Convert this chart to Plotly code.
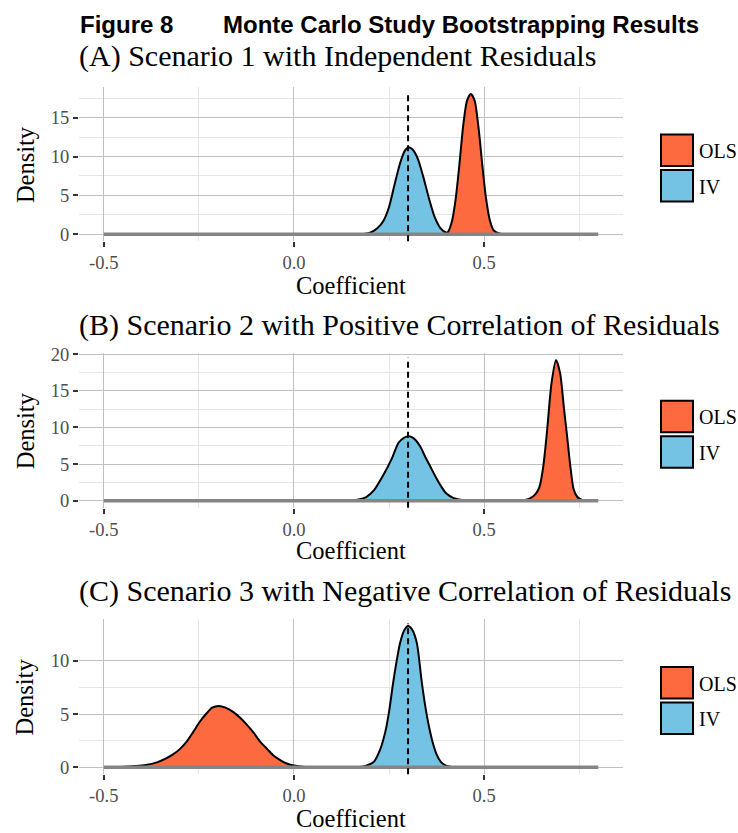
import plotly.graph_objects as go

W, H = 738, 833

# ---------------- data ----------------
coef_ticks = [-0.5, 0.0, 0.5]
coef_tick_text = ["-0.5", "0.0", "0.5"]
coef_minor = [-0.25, 0.25, 0.75]
true_value = 0.3
support = [-0.5, 0.8]
estimators = ["OLS", "IV"]

# (A) Scenario 1 with independent residuals
iv_a_x = [0.18, 0.20, 0.22, 0.235, 0.25, 0.265, 0.28, 0.292, 0.302, 0.312, 0.325, 0.34, 0.355, 0.37, 0.385, 0.40, 0.42]
iv_a_y = [0.0, 0.2, 0.8, 1.7, 3.5, 6.5, 9.3, 10.8, 11.2, 10.9, 9.8, 7.4, 4.6, 2.2, 0.8, 0.2, 0.0]
ols_a_x = [0.39, 0.405, 0.415, 0.425, 0.435, 0.445, 0.455, 0.465, 0.475, 0.485, 0.495, 0.505, 0.515, 0.525, 0.54, 0.56]
ols_a_y = [0.0, 0.3, 1.6, 4.5, 9.0, 14.0, 17.2, 18.05, 17.2, 13.8, 9.0, 4.6, 1.8, 0.5, 0.1, 0.0]

# (B) Scenario 2 with positive correlation of residuals
iv_b_x = [0.15, 0.17, 0.19, 0.21, 0.235, 0.257, 0.275, 0.29, 0.303, 0.315, 0.332, 0.345, 0.358, 0.372, 0.384, 0.40, 0.42, 0.445, 0.46]
iv_b_y = [0.0, 0.15, 0.5, 1.4, 3.5, 5.7, 7.9, 8.6, 8.8, 8.5, 7.4, 6.0, 4.7, 3.3, 2.2, 1.0, 0.35, 0.05, 0.0]
ols_b_x = [0.60, 0.62, 0.635, 0.645, 0.655, 0.665, 0.677, 0.689, 0.70, 0.71, 0.717, 0.727, 0.735, 0.745, 0.76]
ols_b_y = [0.0, 0.3, 0.9, 1.8, 4.5, 9.3, 16.0, 19.2, 17.3, 12.5, 9.3, 4.5, 1.6, 0.5, 0.0]

# (C) Scenario 3 with negative correlation of residuals
iv_c_x = [0.17, 0.19, 0.21, 0.226, 0.24, 0.25, 0.261, 0.27, 0.279, 0.29, 0.30, 0.31, 0.323, 0.336, 0.345, 0.354, 0.365, 0.375, 0.385, 0.397, 0.42]
iv_c_y = [0.0, 0.15, 0.5, 1.6, 3.3, 5.2, 8.0, 10.0, 11.7, 12.9, 13.3, 13.0, 11.7, 8.0, 5.8, 4.0, 2.3, 1.2, 0.55, 0.2, 0.0]
ols_c_x = [-0.46, -0.42, -0.39, -0.36, -0.34, -0.318, -0.30, -0.282, -0.265, -0.247, -0.23, -0.215, -0.197, -0.18, -0.16, -0.14, -0.124, -0.105, -0.089, -0.07, -0.054, -0.035, -0.019, 0.0, 0.03, 0.06]
ols_c_y = [0.0, 0.1, 0.2, 0.45, 0.75, 1.2, 1.7, 2.4, 3.3, 4.3, 5.05, 5.6, 5.76, 5.6, 5.2, 4.6, 4.0, 3.2, 2.4, 1.7, 1.1, 0.65, 0.35, 0.15, 0.02, 0.0]

panel_titles = [
    "(A) Scenario 1 with Independent Residuals",
    "(B) Scenario 2 with Positive Correlation of Residuals",
    "(C) Scenario 3 with Negative Correlation of Residuals",
]
y_ticks = [[0, 5, 10, 15], [0, 5, 10, 15, 20], [0, 5, 10]]
y_minor = [[2.5, 7.5, 12.5, 17.5], [2.5, 7.5, 12.5, 17.5], [2.5, 7.5]]

# ---------------- style ----------------
OLS_FILL = "#FD6A40"
IV_FILL = "#74C3E5"
SERIF = "Liberation Serif, Times New Roman, serif"
SANS = "Liberation Sans, Arial, sans-serif"
MAJOR_GRID = "#C0C0C0"
MINOR_GRID = "#E6E6E6"
TICK_GREY = "#4D4D4D"

# panel geometry in pixels (top, bottom)
panel_px = [(80, 236.4), (349.5, 506.4), (619, 776.5)]
panel_left, panel_right = 79, 623
title_cy = [49, 321, 591]
xtitle_cy = [281, 550, 821]


def py(v):
    return 1 - v / H


def px(v):
    return v / W


series = [
    ((ols_a_x, ols_a_y), (iv_a_x, iv_a_y)),
    ((ols_b_x, ols_b_y), (iv_b_x, iv_b_y)),
    ((ols_c_x, ols_c_y), (iv_c_x, iv_c_y)),
]

fig = go.Figure()
annotations = []
shapes = []
layout = {}

x_pad = 0.05 * (support[1] - support[0])
x_range = [support[0] - x_pad, support[1] + x_pad]

for i, ((ox, oy), (ix, iy)) in enumerate(series):
    n = "" if i == 0 else str(i + 1)
    xa, ya = "x" + n, "y" + n
    top, bot = panel_px[i]

    ymax = max(max(oy), max(iy))
    y_range = [-0.05 * ymax, ymax * 1.05]

    for xs, ys, fillc, name in ((ix, iy, IV_FILL, "IV"), (ox, oy, OLS_FILL, "OLS")):
        fig.add_trace(go.Scatter(
            x=xs, y=ys, mode="lines", name=name, fill="tozeroy", fillcolor=fillc,
            line=dict(color="black", width=2, shape="spline", smoothing=0.7),
            xaxis=xa, yaxis=ya, showlegend=False, hoverinfo="skip"))

    # baseline along the density support
    fig.add_trace(go.Scatter(
        x=support, y=[0, 0], mode="lines", line=dict(color="#858585", width=3.5),
        xaxis=xa, yaxis=ya, showlegend=False, hoverinfo="skip"))

    layout["xaxis" + n] = dict(
        domain=[px(panel_left), px(panel_right)], anchor=ya, range=x_range,
        tickvals=coef_ticks, ticktext=coef_tick_text,
        ticks="outside", ticklen=5, tickwidth=2, tickcolor="#333333",
        tickfont=dict(family=SERIF, size=18.5, color=TICK_GREY),
        showgrid=True, gridcolor=MAJOR_GRID, gridwidth=1,
        minor=dict(tickvals=coef_minor, showgrid=True, gridcolor=MINOR_GRID, gridwidth=1),
        zeroline=False, showline=False, fixedrange=True)
    layout["yaxis" + n] = dict(
        domain=[py(bot), py(top)], anchor=xa, range=y_range,
        tickvals=y_ticks[i], ticks="outside", ticklen=5, tickwidth=2, tickcolor="#333333",
        tickfont=dict(family=SERIF, size=18.5, color=TICK_GREY),
        showgrid=True, gridcolor=MAJOR_GRID, gridwidth=1,
        minor=dict(tickvals=y_minor[i], showgrid=True, gridcolor=MINOR_GRID, gridwidth=1),
        zeroline=False, showline=False, fixedrange=True)

    # true coefficient
    shapes.append(dict(type="line", xref=xa, yref=ya + " domain", x0=true_value, x1=true_value,
                       y0=0, y1=0.97, line=dict(color="black", width=2, dash="6px,4px"), layer="above"))

    # panel title
    annotations.append(dict(text=panel_titles[i], x=px(panel_left - 2), y=py(title_cy[i]),
                            xref="paper", yref="paper", xanchor="left", yanchor="middle",
                            showarrow=False, font=dict(family=SERIF, size=30, color="black")))
    # axis titles
    annotations.append(dict(text="Coefficient", x=px((panel_left + panel_right) / 2), y=py(xtitle_cy[i]),
                            xref="paper", yref="paper", xanchor="center", yanchor="middle",
                            showarrow=False, font=dict(family=SERIF, size=24.5, color="black")))
    annotations.append(dict(text="Density", x=px(25), y=py((top + bot) / 2), textangle=-90,
                            xref="paper", yref="paper", xanchor="center", yanchor="middle",
                            showarrow=False, font=dict(family=SERIF, size=24.5, color="black")))

    # legend keys
    cy = (top + bot) / 2
    for k, (lab, col) in enumerate(zip(estimators, [OLS_FILL, IV_FILL])):
        t = cy - 30 + k * 36
        shapes.append(dict(type="rect", xref="paper", yref="paper",
                           x0=px(661), x1=px(693), y0=py(t + 32), y1=py(t),
                           fillcolor=col, line=dict(color="black", width=2)))
        annotations.append(dict(text=lab, x=px(697), y=py(t + 17), xref="paper", yref="paper",
                                xanchor="left", yanchor="middle", showarrow=False,
                                font=dict(family=SERIF, size=20, color="black")))

annotations.append(dict(text="Figure 8", x=px(78), y=py(17), xref="paper", yref="paper",
                        xanchor="left", yanchor="middle", showarrow=False,
                        font=dict(family=SANS, size=24, color="black", weight="bold")))
annotations.append(dict(text="Monte Carlo Study Bootstrapping Results", x=px(221), y=py(17),
                        xref="paper", yref="paper", xanchor="left", yanchor="middle", showarrow=False,
                        font=dict(family=SANS, size=24, color="black", weight="bold")))

fig.update_layout(
    width=W, height=H, margin=dict(l=0, r=0, t=0, b=0),
    paper_bgcolor="white", plot_bgcolor="white",
    annotations=annotations, shapes=shapes, **layout)

fig.write_html("out.html")
